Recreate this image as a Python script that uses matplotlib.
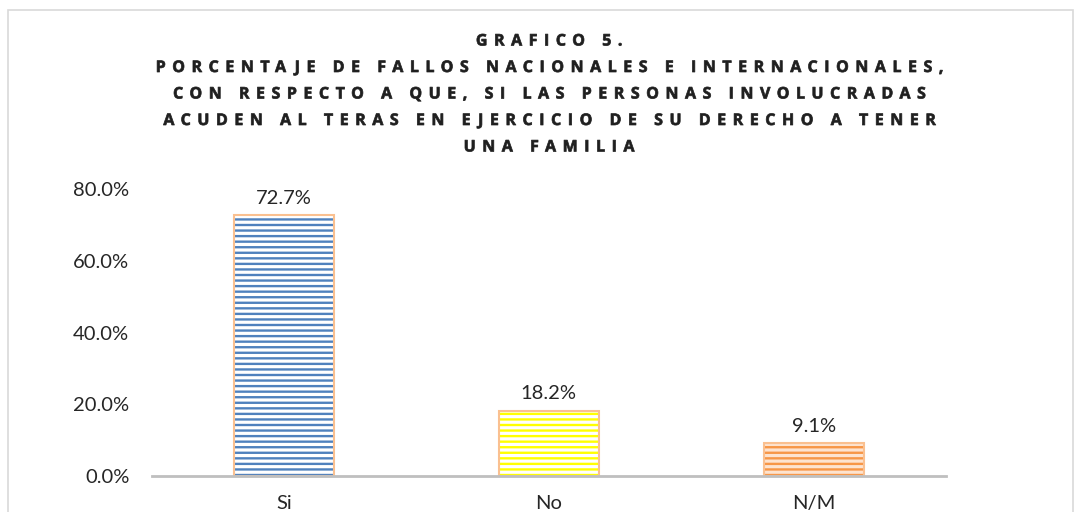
import matplotlib
matplotlib.use("Agg")
import numpy as np
import matplotlib.pyplot as plt
import matplotlib.patheffects as pe
from matplotlib.patches import Rectangle
from matplotlib.path import Path
from matplotlib.textpath import TextToPath
from matplotlib.ticker import FuncFormatter

categories = ["Si", "No", "N/M"]
values = [72.7, 18.2, 9.1]
labels = ["72.7%", "18.2%", "9.1%"]
yticks = [0, 20, 40, 60, 80]
title_lines = [
    "GRAFICO 5.",
    "PORCENTAJE DE FALLOS NACIONALES E INTERNACIONALES,",
    "CON RESPECTO A QUE, SI LAS PERSONAS INVOLUCRADAS",
    "ACUDEN AL TERAS EN EJERCICIO DE SU DERECHO A TENER",
    "UNA FAMILIA",
]

stripe_colors = ["#4F81BD", "#FFFF00", "#F79646"]
back_colors = ["#FFFFFF", "#FFFFFF", "#FDE3CF"]
glow = "#FAC090"

plt.rcParams["font.family"] = ["Lato", "DejaVu Sans"]
plt.rcParams["hatch.linewidth"] = 1.7


class Tracking(pe.AbstractPathEffect):
    """Draws a text with extra letter spacing (tracking), kept centred."""

    def __init__(self, s, prop, track_em, stroke=0.0):
        super().__init__()
        self.s = s
        self.prop = prop
        self.track = track_em
        self.stroke = stroke

    def draw_path(self, renderer, gc, tpath, affine, rgbFace=None):
        try:
            t2p = TextToPath()
            font = t2p._get_font(self.prop)
            glyph_info, glyph_map, rects = t2p.get_glyphs_with_font(font, self.s)
            n = len(glyph_info)
            step = self.track * t2p.FONT_SCALE
            verts, codes = [], []
            for i, (gid, xp, yp, sc) in enumerate(glyph_info):
                v1, c1 = glyph_map[gid]
                if len(v1) == 0:
                    continue
                verts.extend(np.asarray(v1) * sc + [xp + (i - (n - 1) / 2) * step, yp])
                codes.extend(list(c1))
            path = Path(np.array(verts), np.array(codes, dtype=Path.code_type))
        except Exception:
            path = tpath
        gc0 = renderer.new_gc()
        gc0.copy_properties(gc)
        if rgbFace is not None:
            gc0.set_foreground(rgbFace)
        gc0.set_linewidth(self.stroke)
        renderer.draw_path(gc0, path, affine, rgbFace)
        gc0.restore()


fig = plt.figure(figsize=(10.77, 5.12), dpi=100)
fig.patch.set_facecolor("white")
fig.patches.append(Rectangle((8 / 1077, -0.05), (1073 - 8) / 1077, 1.05 - 10 / 512,
                             transform=fig.transFigure, fill=False,
                             edgecolor="#D9D9D9", linewidth=1.2))

ax = fig.add_axes([151.5 / 1077, 36 / 512, (946 - 151.5) / 1077, (476 - 189) / 512])
x = list(range(len(categories)))
width = 0.377
ax.bar(x, values, width=width, color=back_colors, linewidth=0, zorder=2)
ax.bar(x, values, width=width, color="none", edgecolor=stripe_colors,
       hatch="---", linewidth=0, zorder=3)
ax.bar(x, values, width=width, color="none", edgecolor=glow, linewidth=1.5, zorder=4)

for xi, v, lab in zip(x, values, labels):
    ax.annotate(lab, (xi, v), xytext=(0, 6), textcoords="offset points",
                ha="center", va="bottom", fontsize=14.5, color="#262626")

ax.set_xlim(-0.5, len(categories) - 0.5)
ax.set_ylim(0, 80)
ax.set_yticks(yticks)
ax.yaxis.set_major_formatter(FuncFormatter(lambda v, p: f"{v:.1f}%"))
ax.set_xticks(x)
ax.set_xticklabels(categories)
ax.tick_params(axis="y", length=0, pad=16, labelsize=14.5, labelcolor="#262626")
ax.tick_params(axis="x", length=0, pad=14, labelsize=14.5, labelcolor="#262626")
for s in ["top", "right", "left"]:
    ax.spines[s].set_visible(False)
ax.spines["bottom"].set_color("#BFBFBF")
ax.spines["bottom"].set_linewidth(2)
ax.spines["bottom"].set_zorder(5)

baselines = [45.5, 72, 98.5, 125, 151.5]
for line, yp in zip(title_lines, baselines):
    t = fig.text(549 / 1077, 1 - yp / 512, line, ha="center", va="baseline",
                 fontsize=11.5, fontweight="bold", color="#1F1F1F",
                 family=["Open Sans", "DejaVu Sans"])
    t.set_path_effects([Tracking(line, t.get_fontproperties(), 0.41, stroke=0.5)])

fig.savefig("out.png", dpi=100)
